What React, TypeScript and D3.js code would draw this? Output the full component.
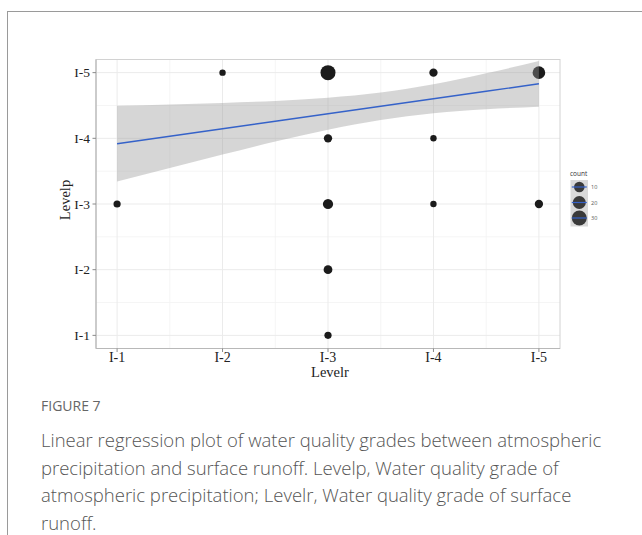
import React from "react";
import * as d3 from "d3";

// ---- data ----
const levelLabels = ["I-1", "I-2", "I-3", "I-4", "I-5"];
const pointLevelR = [1, 2, 3, 4, 5, 3, 4, 3, 4, 5, 3, 3];
const pointLevelP = [3, 5, 5, 5, 5, 4, 4, 3, 3, 3, 2, 1];
const pointCount = [2, 1, 30, 4, 18, 4, 1, 9, 1, 4, 5, 2];
const fitX = [1, 1.5, 2, 2.5, 3, 3.5, 4, 4.5, 5];
const fitY = [3.918, 4.032, 4.146, 4.26, 4.374, 4.488, 4.602, 4.716, 4.83];
const fitUpper = [4.495, 4.515, 4.539, 4.57, 4.618, 4.696, 4.822, 4.989, 5.178];
const fitLower = [3.341, 3.549, 3.753, 3.95, 4.131, 4.28, 4.382, 4.443, 4.482];
const legendCounts = [10, 20, 30];
const captionTitle = "FIGURE 7";
const captionLines = [
  "Linear regression plot of water quality grades between atmospheric",
  "precipitation and surface runoff. Levelp, Water quality grade of",
  "atmospheric precipitation; Levelr, Water quality grade of surface",
  "runoff.",
];

const W = 642;
const H = 535;
const panel = { left: 96, right: 560, top: 59.5, bottom: 348.5 };

export default function App() {
  const x = d3.scaleLinear().domain([0.8, 5.2]).range([panel.left, panel.right]);
  const y = d3.scaleLinear().domain([0.8, 5.2]).range([panel.bottom, panel.top]);
  const r = d3
    .scaleLinear()
    .domain([1, Math.sqrt(d3.max(pointCount) as number)])
    .range([3.2, 7.5]);
  const rad = (c: number) => r(Math.sqrt(c));

  const points = pointLevelR.map((lr, i) => ({ lr, lp: pointLevelP[i], c: pointCount[i] }));

  const fit = fitX.map((fx, i) => ({ x: fx, y: fitY[i], lo: fitLower[i], hi: fitUpper[i] }));
  const area = d3
    .area<any>()
    .x((d) => x(d.x))
    .y0((d) => y(d.lo))
    .y1((d) => y(d.hi))
    .curve(d3.curveMonotoneX);
  const line = d3
    .line<any>()
    .x((d) => x(d.x))
    .y((d) => y(d.y));

  const majors = [1, 2, 3, 4, 5];
  const minors = [1.5, 2.5, 3.5, 4.5];
  const serif = "'Liberation Serif', 'Times New Roman', serif";
  const sans = "'Open Sans', 'Noto Sans', sans-serif";

  const lgX = 579.3;
  const lgY0 = 187;
  const lgStep = 15.5;

  return (
    <div style={{ position: "fixed", left: 0, top: 0 }}>
      <svg width={W} height={H} style={{ display: "block", background: "#fff" }}>
        <rect x={0} y={0} width={W} height={H} fill="#fff" />
        {/* outer frame */}
        <line x1={7.5} y1={11} x2={7.5} y2={H} stroke="#9a9a9a" strokeWidth={1} />
        <line x1={7.5} y1={11.5} x2={W} y2={11.5} stroke="#9a9a9a" strokeWidth={1} />

        {/* grid */}
        {minors.map((v) => (
          <g key={"mn" + v}>
            <line x1={x(v)} x2={x(v)} y1={panel.top} y2={panel.bottom} stroke="#f3f3f3" strokeWidth={0.8} />
            <line x1={panel.left} x2={panel.right} y1={y(v)} y2={y(v)} stroke="#f3f3f3" strokeWidth={0.8} />
          </g>
        ))}
        {majors.map((v) => (
          <g key={"mj" + v}>
            <line x1={x(v)} x2={x(v)} y1={panel.top} y2={panel.bottom} stroke="#ebebeb" strokeWidth={1} />
            <line x1={panel.left} x2={panel.right} y1={y(v)} y2={y(v)} stroke="#ebebeb" strokeWidth={1} />
          </g>
        ))}

        {/* points */}
        {points.map((p, i) => (
          <circle key={i} cx={x(p.lr)} cy={y(p.lp)} r={rad(p.c)} fill="#1b1b1b" />
        ))}

        {/* smooth */}
        <path d={area(fit) as string} fill="#999999" fillOpacity={0.4} />
        <path d={line(fit) as string} fill="none" stroke="#3562c9" strokeWidth={1.4} />

        {/* panel border */}
        <rect
          x={panel.left}
          y={panel.top}
          width={panel.right - panel.left}
          height={panel.bottom - panel.top}
          fill="none"
          stroke="#d2d2d2"
          strokeWidth={1}
        />
        <line x1={panel.left} x2={panel.left} y1={panel.top} y2={panel.bottom} stroke="#b8b8b8" strokeWidth={1.2} />
        <line x1={panel.left} x2={panel.right} y1={panel.bottom} y2={panel.bottom} stroke="#b8b8b8" strokeWidth={1.2} />

        {/* axes ticks */}
        {majors.map((v, i) => (
          <g key={"tx" + v}>
            <line x1={x(v)} x2={x(v)} y1={panel.bottom} y2={panel.bottom + 3.5} stroke="#8a8a8a" strokeWidth={1} />
            <text x={x(v)} y={362} textAnchor="middle" fontFamily={serif} fontSize={14} fill="#222">
              {levelLabels[i]}
            </text>
            <line x1={panel.left - 3.5} x2={panel.left} y1={y(v)} y2={y(v)} stroke="#8a8a8a" strokeWidth={1} />
            <text x={90} y={y(v) + 4.5} textAnchor="end" fontFamily={serif} fontSize={13.5} fill="#222">
              {levelLabels[i]}
            </text>
          </g>
        ))}
        <text x={(panel.left + panel.right) / 2 + 2} y={377} textAnchor="middle" fontFamily={serif} fontSize={14.5} fill="#222">
          Levelr
        </text>
        <text
          transform={`translate(70, ${(panel.top + panel.bottom) / 2 - 4}) rotate(-90)`}
          textAnchor="middle"
          fontFamily={serif}
          fontSize={14.5}
          fill="#222"
        >
          Levelp
        </text>

        {/* legend */}
        <text x={570} y={176} fontFamily={sans} fontSize={6.5} fill="#333">
          count
        </text>
        <rect x={570.5} y={180} width={17.5} height={lgStep * 3} fill="#d9d9d9" />
        {legendCounts.map((c, i) => {
          const cy = lgY0 + i * lgStep;
          return (
            <g key={"lg" + c}>
              <circle cx={lgX} cy={cy} r={rad(c)} fill="#3a3a3a" />
              <line x1={lgX - 7.5} x2={lgX + 7.5} y1={cy} y2={cy} stroke="#3562c9" strokeWidth={1.2} />
              <text x={591} y={cy + 2} fontFamily={sans} fontSize={5.5} fill="#555">
                {c}
              </text>
            </g>
          );
        })}

        {/* caption */}
        <text x={41} y={411} fontFamily={sans} fontSize={14} fill="#666" fontWeight={500}>
          {captionTitle}
        </text>
        {captionLines.map((t, i) => (
          <text key={i} x={41} y={447 + i * 27.5} fontFamily={sans} fontSize={18.5} fill="#555" fontWeight={300}>
            {t}
          </text>
        ))}
      </svg>
    </div>
  );
}
